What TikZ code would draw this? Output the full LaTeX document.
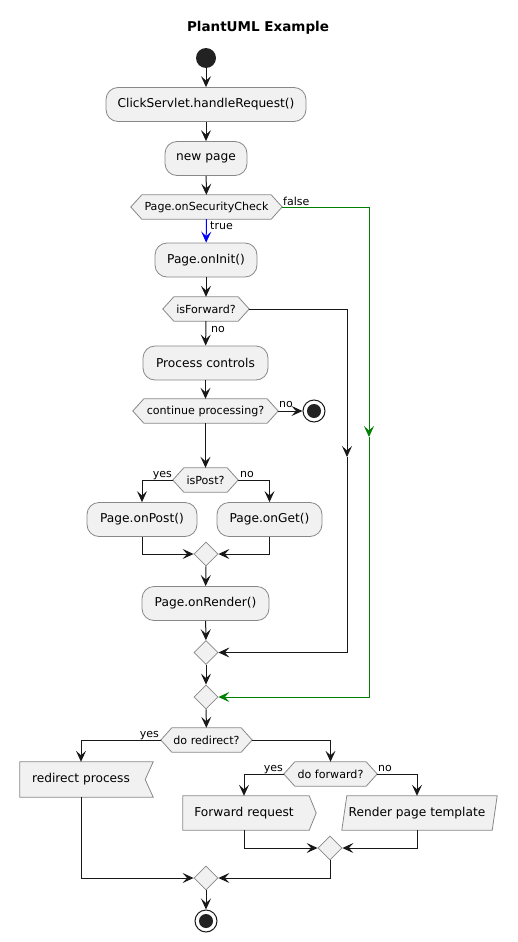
\documentclass[tikz,border=0pt]{standalone}
\usepackage{fontspec}
\setmainfont{DejaVu Sans}
\usetikzlibrary{arrows.meta,shapes.geometric,backgrounds}
\definecolor{boxfill}{HTML}{F1F1F1}
\definecolor{boxline}{HTML}{888888}
\definecolor{ln}{HTML}{181818}
\definecolor{grn}{HTML}{008000}
\definecolor{startc}{HTML}{222222}
\newcommand\hexdraw[1]{\path[hexshape] (#1.west) -- ([xshift=11pt]#1.north west) -- ([xshift=-11pt]#1.north east) -- (#1.east) -- ([xshift=-11pt]#1.south east) -- ([xshift=11pt]#1.south west) -- cycle;}
\begin{document}
\begin{tikzpicture}[x=1pt,y=-1pt,
  act/.style={draw=boxline, fill=boxfill, rounded corners=12pt, minimum height=34pt, inner sep=0pt, font=\fontsize{12.2}{14}\selectfont, line width=0.8pt},
  hexa/.style={minimum height=24pt, inner sep=0pt, font=\fontsize{11.1}{13}\selectfont},
  hexshape/.style={draw=boxline, fill=boxfill, line width=0.8pt},
  plaintext/.style={inner sep=0pt, minimum height=34pt, font=\fontsize{12.2}{14}\selectfont},
  merge/.style={diamond, aspect=1, draw=boxline, fill=boxfill, minimum width=24pt, minimum height=24pt, inner sep=0pt, line width=0.8pt},
  flow/.style={draw=ln, line width=1pt, -{Stealth[length=11pt,width=10pt,inset=4.5pt]}},
  lbl/.style={font=\fontsize{11}{13}\selectfont, inner sep=0pt},
  stopout/.style={circle, draw=ln, line width=1pt, fill=white, minimum size=22pt, inner sep=0pt},
  stopin/.style={circle, fill=startc, minimum size=14pt, inner sep=0pt},
]
\useasboundingbox (0,0) rectangle (518,942);

\node[font=\bfseries\fontsize{13.5}{16}\selectfont] (title) at (258,28) {PlantUML Example};

\node[circle, fill=startc, minimum size=20pt, inner sep=0pt] (start) at (206,58) {};
\node[act, minimum width=200pt] (click) at (206,104.5) {ClickServlet.handleRequest()};
\node[act, minimum width=82pt] (newp) at (206,158.5) {new page};
\node[hexa, minimum width=151pt] (sec) at (206.5,207) {Page.onSecurityCheck};
\node[act, minimum width=102pt] (init) at (206,260) {Page.onInit()};
\node[hexa, minimum width=86pt] (isfwd) at (206,309) {isForward?};
\node[act, minimum width=125pt] (proc) at (205.5,363) {Process controls};
\node[hexa, minimum width=145pt] (cont) at (205.5,411) {continue processing?};
\node[stopout] (stopA) at (314,411) {};
\node[stopin] (stopAin) at (314,411) {};
\node[hexa, minimum width=65pt] (ispost) at (205.5,480) {isPost?};
\node[act, minimum width=110pt] (post) at (142,519.5) {Page.onPost()};
\node[act, minimum width=105pt] (get) at (269.5,519.5) {Page.onGet()};
\node[merge] (m1) at (206,554) {};
\node[act, minimum width=127pt] (render) at (205.5,603.5) {Page.onRender()};
\node[merge] (m2) at (206,652.5) {};
\node[merge] (m3) at (206,697) {};
\node[hexa, minimum width=91pt] (redir) at (206.5,740) {do redirect?};
\node[plaintext, minimum width=122pt, minimum height=35pt] (rproc) at (81,779.5) {redirect process};
\node[hexa, minimum width=93pt] (fwd) at (330.5,774) {do forward?};
\node[plaintext, minimum width=122pt] (freq) at (244,813) {Forward request};
\node[plaintext, minimum width=150pt] (rpt) at (417,813) {Render page template};
\node[merge] (m4) at (330,848) {};
\node[merge] (m5) at (206,878) {};
\node[stopout] (stopB) at (206,921) {};
\node[stopin] (stopBin) at (206,921) {};

\begin{scope}[on background layer]
  \hexdraw{sec}
  \hexdraw{isfwd}
  \hexdraw{cont}
  \hexdraw{ispost}
  \hexdraw{redir}
  \hexdraw{fwd}
  \path[hexshape] (rproc.north west) -- ([xshift=11pt]rproc.north east) -- ([xshift=3pt]rproc.east) -- ([xshift=11pt]rproc.south east) -- (rproc.south west) -- cycle;
  \path[hexshape] (freq.north west) -- ([xshift=4pt]freq.north east) -- ([xshift=11pt]freq.east) -- ([xshift=4pt]freq.south east) -- (freq.south west) -- cycle;
  \path[hexshape] ([xshift=5pt]rpt.north west) -- ([xshift=5pt]rpt.north east) -- (rpt.south east) -- (rpt.south west) -- cycle;
\end{scope}

% labels
\node[lbl, anchor=base west] (lfalse) at (283,205) {false};
\node[lbl, anchor=base west] (ltrue) at (210,229) {true};
\node[lbl, anchor=base west] (lno1) at (211,332) {no};
\node[lbl, anchor=base west] (lno2) at (279,407) {no};
\node[lbl, anchor=base east] (lyes1) at (172,477) {yes};
\node[lbl, anchor=base west] (lno3) at (240,477) {no};
\node[lbl, anchor=base east] (lyes2) at (159,737) {yes};
\node[lbl, anchor=base east] (lyes3) at (283,771) {yes};
\node[lbl, anchor=base west] (lno4) at (378,771) {no};

% connectors
\draw[flow] (start) -- (click);
\draw[flow] (click) -- (newp);
\draw[flow] (newp) -- (sec);
\draw[flow, draw=blue] (sec) -- (init);
\draw[flow] (init) -- (isfwd);
\draw[flow] (isfwd) -- (proc);
\draw[flow] (proc) -- (cont);
\draw[flow] (cont.east) -- (stopA);
\draw[flow] (cont) -- (ispost);
\draw[flow] (ispost.west) -| (post.north);
\draw[flow] (ispost.east) -| (get.north);
\draw[flow] (post.south) |- (m1.west);
\draw[flow] (get.south) |- (m1.east);
\draw[flow] (m1) -- (render);
\draw[flow] (render) -- (m2);
\coordinate (fmid) at (347,457);
\draw[flow] (isfwd.east) -| (fmid);
\draw[flow] (fmid) |- (m2.east);
\coordinate (gmid) at (369,437);
\draw[flow, draw=grn] (sec.east) -| (gmid);
\draw[flow, draw=grn] (gmid) |- (m3.east);
\draw[flow] (m2) -- (m3);
\draw[flow] (m3) -- (redir);
\draw[flow] (redir.west) -| (rproc.north);
\draw[flow] (redir.east) -| (fwd.north);
\draw[flow] (fwd.west) -| (freq.north);
\draw[flow] (fwd.east) -| (rpt.north);
\draw[flow] (freq.south) |- (m4.west);
\draw[flow] (rpt.south) |- (m4.east);
\draw[flow] (rproc.south) |- (m5.west);
\draw[flow] (m4.south) |- (m5.east);
\draw[flow] (m5) -- (stopB);
\end{tikzpicture}
\end{document}
